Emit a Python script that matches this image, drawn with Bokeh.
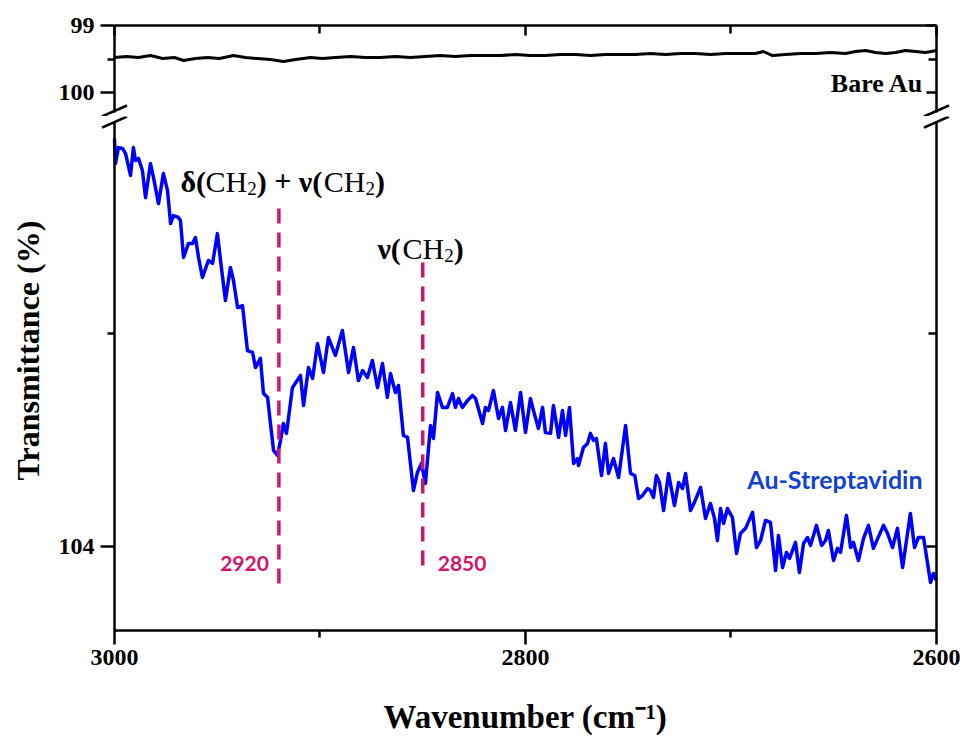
import math

from bokeh.embed import file_html
from bokeh.layouts import column
from bokeh.models import (CustomJSTickFormatter, FixedTicker, Label, LinearAxis,
                          Range1d)
from bokeh.plotting import figure
from bokeh.resources import INLINE

# ---------------------------------------------------------------- data
# Au-Streptavidin FTIR spectrum (wavenumber in cm^-1, transmittance in %)
wavenumber = [
    3000.0, 2999.5, 2998.1, 2996.1, 2994.6, 2992.2, 2990.8, 2989.8, 2988.3, 2986.4,
    2984.9, 2982.5, 2981.0, 2978.6, 2976.2, 2974.2, 2972.7, 2971.3, 2968.9, 2967.9,
    2966.4, 2964.0, 2962.0, 2960.6, 2959.1, 2957.2, 2954.3, 2952.3, 2949.9, 2948.4,
    2946.0, 2943.6, 2942.1, 2940.1, 2937.7, 2935.3, 2932.8, 2931.4, 2929.0, 2927.5,
    2925.5, 2924.1, 2922.6, 2920.7, 2919.2, 2917.8, 2916.3, 2913.4, 2909.5, 2908.0,
    2905.6, 2903.6, 2901.2, 2898.3, 2895.9, 2892.5, 2889.1, 2886.1, 2883.7, 2881.3,
    2879.3, 2876.9, 2874.5, 2872.0, 2869.6, 2867.2, 2865.7, 2863.3, 2861.8, 2859.4,
    2857.4, 2856.0, 2854.5, 2852.6, 2850.6, 2848.7, 2846.2, 2844.8, 2842.8, 2840.4,
    2838.0, 2835.5, 2834.1, 2832.6, 2830.7, 2828.2, 2825.8, 2824.3, 2820.9, 2819.5,
    2818.0, 2815.6, 2813.1, 2811.2, 2809.7, 2807.3, 2804.9, 2802.4, 2800.0, 2797.6,
    2796.1, 2793.7, 2791.7, 2790.3, 2787.8, 2786.4, 2783.9, 2782.0, 2780.5, 2778.6,
    2776.6, 2774.7, 2774.2, 2771.8, 2769.8, 2768.4, 2766.9, 2765.5, 2763.0, 2761.1,
    2759.6, 2757.2, 2754.7, 2751.3, 2748.9, 2746.8, 2745.0, 2743.1, 2740.6, 2739.2,
    2737.7, 2736.3, 2734.8, 2732.8, 2730.4, 2727.5, 2725.5, 2723.6, 2722.1, 2719.7,
    2717.8, 2714.8, 2712.4, 2710.0, 2708.0, 2706.6, 2705.1, 2703.6, 2701.7, 2699.3,
    2697.3, 2695.4, 2692.9, 2689.5, 2687.6, 2685.6, 2683.2, 2680.8, 2678.3, 2676.9,
    2674.9, 2673.0, 2671.5, 2668.6, 2666.7, 2664.7, 2662.8, 2661.3, 2658.4, 2655.9,
    2654.0, 2652.6, 2650.1, 2648.2, 2646.7, 2643.8, 2641.8, 2640.4, 2638.0, 2635.5,
    2633.1, 2630.7, 2625.8, 2623.8, 2621.4, 2619.0, 2616.5, 2615.1, 2612.7, 2610.7,
    2608.8, 2606.3, 2602.9, 2601.5, 2600.0,
]
transmittance_strep = [
    102.085, 102.202, 102.127, 102.131, 102.155, 102.258, 102.127, 102.188, 102.178, 102.235,
    102.362, 102.202, 102.268, 102.390, 102.249, 102.329, 102.484, 102.446, 102.455, 102.469,
    102.643, 102.577, 102.577, 102.549, 102.643, 102.737, 102.657, 102.671, 102.531, 102.657,
    102.845, 102.690, 102.751, 102.878, 102.869, 103.080, 103.089, 103.160, 103.117, 103.282,
    103.300, 103.423, 103.549, 103.573, 103.502, 103.423, 103.469, 103.254, 103.197, 103.338,
    103.160, 103.211, 103.047, 103.183, 103.019, 103.103, 102.986, 103.183, 103.066, 103.221,
    103.174, 103.207, 103.127, 103.254, 103.141, 103.300, 103.188, 103.277, 103.244, 103.479,
    103.488, 103.610, 103.737, 103.653, 103.610, 103.704, 103.432, 103.493, 103.277, 103.347,
    103.347, 103.282, 103.347, 103.305, 103.347, 103.315, 103.291, 103.305, 103.423, 103.347,
    103.362, 103.268, 103.399, 103.347, 103.455, 103.324, 103.455, 103.277, 103.465, 103.305,
    103.362, 103.446, 103.347, 103.465, 103.469, 103.338, 103.488, 103.362, 103.479, 103.347,
    103.610, 103.587, 103.620, 103.535, 103.516, 103.469, 103.502, 103.493, 103.667, 103.516,
    103.657, 103.587, 103.676, 103.432, 103.657, 103.667, 103.775, 103.761, 103.728, 103.737,
    103.770, 103.667, 103.700, 103.831, 103.657, 103.808, 103.700, 103.728, 103.657, 103.831,
    103.793, 103.723, 103.869, 103.798, 103.869, 103.972, 103.822, 103.892, 103.822, 103.864,
    104.033, 103.939, 103.915, 103.840, 104.005, 103.972, 103.878, 103.887, 104.113, 103.948,
    104.099, 104.028, 104.056, 103.981, 104.122, 103.986, 103.958, 103.995, 103.901, 103.995,
    103.972, 103.925, 104.066, 104.009, 104.028, 103.854, 104.005, 103.981, 104.066, 103.962,
    103.901, 104.009, 103.901, 103.939, 104.005, 103.915, 104.099, 104.005, 103.845, 104.005,
    103.958, 103.958, 104.169, 104.127, 104.160,
]

# Bare Au reference spectrum
bare_wavenumber = [
    3000.0, 2994.2, 2988.3, 2982.5, 2976.6, 2970.8, 2966.4, 2960.6, 2954.7, 2948.9,
    2942.1, 2936.3, 2930.4, 2924.1, 2917.8, 2911.9, 2904.6, 2898.8, 2892.5, 2885.2,
    2877.9, 2870.6, 2863.3, 2856.0, 2848.7, 2841.4, 2834.1, 2826.8, 2819.5, 2812.2,
    2804.9, 2797.6, 2790.3, 2783.0, 2775.7, 2768.4, 2761.1, 2753.8, 2746.5, 2739.2,
    2731.9, 2724.6, 2717.3, 2709.9, 2702.7, 2695.4, 2688.1, 2684.2, 2679.8, 2673.5,
    2666.2, 2658.9, 2651.6, 2644.3, 2639.4, 2634.5, 2629.7, 2624.8, 2619.9, 2615.1,
    2610.2, 2605.4, 2600.0,
]
transmittance_bare = [
    99.478, 99.463, 99.478, 99.448, 99.493, 99.478, 99.522, 99.493, 99.478, 99.493,
    99.448, 99.478, 99.493, 99.507, 99.537, 99.507, 99.478, 99.493, 99.478, 99.463,
    99.478, 99.478, 99.463, 99.478, 99.463, 99.448, 99.463, 99.448, 99.448, 99.448,
    99.433, 99.448, 99.448, 99.433, 99.433, 99.448, 99.433, 99.433, 99.433, 99.418,
    99.433, 99.418, 99.418, 99.433, 99.418, 99.418, 99.418, 99.388, 99.448, 99.433,
    99.418, 99.418, 99.403, 99.418, 99.388, 99.373, 99.403, 99.418, 99.403, 99.373,
    99.388, 99.403, 99.373,
]

# CH2 band positions and the extent of their guide lines
peak_wavenumbers = [2920, 2850]
peak_labels = ["2920", "2850"]
guide_top = [102.413, 102.667]
guide_bottom = [104.183, 104.122]

# axes: x limits and ticks, the two y segments of the broken axis
x_limits = (3000, 2600)
x_ticks = [3000, 2800, 2600]
x_minor_ticks = [2900, 2700]
upper_limits = (99.0, 100.2985)
upper_ticks = [99, 100]
upper_minor_ticks = [99.5]
lower_limits = (102.004, 104.394)
lower_ticks = [104]
lower_minor_ticks = [103]

# ---------------------------------------------------------------- style
SERIF = "Liberation Serif"
SANS = "Lato"
LINE_BLUE = "#0000FF"
TEXT_BLUE = "#1143CC"
MAGENTA = "#D2156B"

WIDTH = 964
UPPER_H, LOWER_H = 116, 628

# The plotting frames fill the whole canvas, so every axis is pinned at the data
# limits and its labels and titles stay inside the frame.
x_range = Range1d(3055.47, 2586.37)
blank = CustomJSTickFormatter(code="return ''")


def style_axis(axis, ticks, minor, bounds, at, outward=True, labels=True):
    axis.ticker = FixedTicker(ticks=ticks, minor_ticks=minor)
    axis.bounds = (min(bounds), max(bounds))
    axis.fixed_location = at
    axis.axis_line_width = 2.5
    axis.axis_line_color = "black"
    axis.major_tick_line_width = 2.5
    axis.minor_tick_line_width = 2.5
    axis.major_tick_line_color = "black"
    axis.minor_tick_line_color = "black"
    if outward:
        axis.major_tick_out, axis.major_tick_in = 14, 0
        axis.minor_tick_out, axis.minor_tick_in = 7, 0
    else:
        axis.major_tick_out, axis.major_tick_in = 0, 10
        axis.minor_tick_out, axis.minor_tick_in = 0, 8
    axis.major_label_text_font = SERIF
    axis.major_label_text_font_style = "bold"
    axis.major_label_text_font_size = "24px"
    axis.major_label_text_color = "black"
    axis.major_label_standoff = 6
    if not labels:
        axis.formatter = blank


def base_figure(height, y_range, x_loc):
    p = figure(width=WIDTH, height=height, x_range=x_range, y_range=y_range,
               output_backend="svg", toolbar_location=None, title=None,
               x_axis_location=x_loc,
               min_border_left=0, min_border_right=0,
               min_border_top=0, min_border_bottom=0)
    p.xgrid.visible = False
    p.ygrid.visible = False
    p.outline_line_color = None
    p.background_fill_color = "white"
    p.border_fill_color = "white"
    return p


def break_marks(p, y_low, y_high):
    half = 6.1
    p.segment(x0=[x + half for x in x_limits], y0=[y_low, y_low],
              x1=[x - half for x in x_limits], y1=[y_high, y_high],
              line_color="black", line_width=2.5)


# ---------------------------------------------------------------- upper panel (Bare Au)
upper = base_figure(UPPER_H, Range1d(100.358, 98.627), "above")
style_axis(upper.xaxis[0], x_ticks, x_minor_ticks, x_limits, upper_limits[0],
           outward=False, labels=False)
style_axis(upper.yaxis[0], upper_ticks, upper_minor_ticks, upper_limits, x_limits[0])
upper_right = LinearAxis()
style_axis(upper_right, upper_ticks, upper_minor_ticks, upper_limits, x_limits[1],
           outward=False, labels=False)
upper.add_layout(upper_right, "right")

upper.line(bare_wavenumber, transmittance_bare, line_color="black", line_width=3,
           line_join="round")
upper.add_layout(Label(x=2606.3, y=99.866, text="Bare Au", text_align="right",
                       text_baseline="alphabetic", text_font=SERIF,
                       text_font_style="bold", text_font_size="26px",
                       text_color="black"))
break_marks(upper, 100.358, 100.194)

# ---------------------------------------------------------------- lower panel (Au-Streptavidin)
lower = base_figure(LOWER_H, Range1d(104.930, 101.981), "below")
style_axis(lower.xaxis[0], x_ticks, x_minor_ticks, x_limits, lower_limits[1])
style_axis(lower.yaxis[0], lower_ticks, lower_minor_ticks, lower_limits, x_limits[0])
lower_right = LinearAxis()
style_axis(lower_right, lower_ticks, lower_minor_ticks, lower_limits, x_limits[1],
           outward=False, labels=False)
lower.add_layout(lower_right, "right")

# axis titles, centred on the axis spans
lower.add_layout(Label(x=sum(x_limits) / 2, y=104.803, text="Wavenumber (cm\u207b\u00b9)",
                       text_align="center", text_baseline="middle", text_font=SERIF,
                       text_font_style="bold", text_font_size="33px", text_color="black"))
lower.add_layout(Label(x=3041.85, y=103.08, text="Transmittance (%)", angle=math.pi / 2,
                       text_align="center", text_baseline="middle", text_font=SERIF,
                       text_font_style="bold", text_font_size="32px", text_color="black"))

lower.line(wavenumber, transmittance_strep, line_color=LINE_BLUE, line_width=3.5,
           line_join="round")
lower.segment(x0=peak_wavenumbers, y0=guide_top, x1=peak_wavenumbers, y1=guide_bottom,
              line_color=MAGENTA, line_width=3.5, line_dash="15 9")
break_marks(lower, 102.033, 101.981)

# band assignments, built from pieces so the subscripts sit lower
SUB_DROP = 0.033


def assignment(p, x, y, pieces):
    for text, style, size, dx, sub in pieces:
        p.add_layout(Label(x=x, y=y + (SUB_DROP if sub else 0.0), x_offset=dx, text=text,
                           text_align="left", text_baseline="alphabetic",
                           text_font=SERIF, text_font_style=style,
                           text_font_size=size, text_color="black"))


assignment(lower, peak_wavenumbers[0], 102.286, [
    ("\u03b4(", "bold", "30px", -98.4, False),
    ("CH", "normal", "30px", -73.4, False),
    ("2", "normal", "19px", -31.7, True),
    (")", "bold", "30px", -22.2, False),
    ("+", "bold", "30px", -4.7, False),
    ("\u03bd(", "bold", "30px", 19.9, False),
    ("CH", "normal", "30px", 44.9, False),
    ("2", "normal", "19px", 86.6, True),
    (")", "bold", "30px", 96.1, False),
])
assignment(lower, peak_wavenumbers[1], 102.601, [
    ("\u03bd(", "bold", "30px", -45.3, False),
    ("CH", "normal", "30px", -20.3, False),
    ("2", "normal", "19px", 21.4, True),
    (")", "bold", "30px", 30.9, False),
])

# band positions next to the guide lines
lower.add_layout(Label(x=peak_wavenumbers[0], y=104.080, x_offset=-10, text=peak_labels[0],
                       text_align="right", text_baseline="alphabetic", text_font=SANS,
                       text_font_style="bold", text_font_size="21px", text_color=MAGENTA))
lower.add_layout(Label(x=peak_wavenumbers[1], y=104.080, x_offset=15, text=peak_labels[1],
                       text_align="left", text_baseline="alphabetic", text_font=SANS,
                       text_font_style="bold", text_font_size="21px", text_color=MAGENTA))

lower.add_layout(Label(x=2606.8, y=103.681, text="Au-Streptavidin", text_align="right",
                       text_baseline="alphabetic", text_font=SANS, text_font_style="bold",
                       text_font_size="25px", text_color=TEXT_BLUE))

layout = column(upper, lower, spacing=0)
open("out.html", "w").write(file_html(layout, INLINE))
